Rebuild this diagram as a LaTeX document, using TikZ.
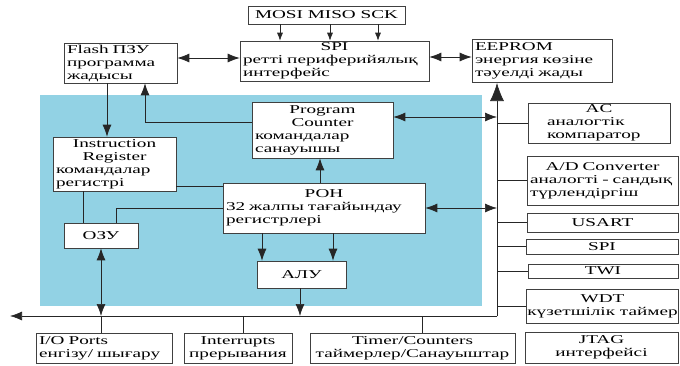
\documentclass[tikz,border=0pt]{standalone}
\usepackage{fontspec}
\setmainfont[FakeStretch=1.6]{Liberation Serif}
\usetikzlibrary{arrows.meta}
\definecolor{corebg}{RGB}{146,210,228}
\newcommand{\ctrln}[1]{\hfill#1\hfill\null}

\tikzset{
  blk/.style={draw=black!75, fill=white, line width=0.6pt, inner xsep=3pt, inner ysep=0pt, align=left},
  wire/.style={black!85, line width=0.7pt},
  arrsmall/.style={wire, -{Latex[length=8pt,width=6pt]}},
  arr/.style={wire, -{Latex[length=12pt,width=9pt]}},
  dblarr/.style={wire, {Latex[length=12pt,width=9pt]}-{Latex[length=12pt,width=9pt]}},
  bigarr/.style={wire, -{Latex[length=18pt,width=14pt]}}
}

\begin{document}
\begin{tikzpicture}[x=1pt, y=-1pt, font=\fontsize{12}{13}\selectfont]

\useasboundingbox (0,0) rectangle (680,365);

% core
\fill[corebg] (40,95) rectangle (482,306);

% blocks
\node[blk, minimum width=157, minimum height=18, align=center] (mosi) at (326.5,15) {MOSI MISO SCK};
\node[blk, text width=183, minimum height=40] (spi) at (334.5,61) {\ctrln{SPI}\\ретті периферийялық\\интерфейс};
\node[blk, text width=134, minimum height=43] (eeprom) at (542,60.5) {EEPROM\\энергия көзіне\\тәуелді жады};
\node[blk, text width=107, minimum height=40] (flash) at (120.5,63) {Flash ПЗУ\\программа\\жадысы};

\node[blk, text width=135, minimum height=56] (pc) at (322.5,130) {\ctrln{Program}\\\ctrln{Counter}\\командалар\\санауышы};
\node[blk, text width=117, minimum height=54] (ir) at (114.5,164) {\ctrln{Instruction}\\\ctrln{Register}\\командалар\\регистрі};
\node[blk, text width=196, minimum height=50] (ron) at (324,208) {\ctrln{РОН}\\32 жалпы тағайындау\\регистрлері};
\node[blk, minimum width=74, minimum height=25, align=center] (ozu) at (101,235.5) {ОЗУ};
\node[blk, minimum width=89, minimum height=27, align=center] (alu) at (301.5,274.5) {АЛУ};

\node[blk, text width=104, minimum width=142, minimum height=40] (ac) at (599,123) {\ctrln{AC}\\аналогтік\\компаратор};
\node[blk, text width=145, minimum height=49] (adc) at (602.5,180.5) {\ctrln{A/D Converter}\\аналогті - сандық\\түрлендіргіш};
\node[blk, minimum width=151, minimum height=19, align=center] (usart) at (602.5,222.5) {USART};
\node[blk, minimum width=152, minimum height=15, align=center] (spiport) at (602,246.5) {SPI};
\node[blk, minimum width=150, minimum height=14, align=center] (twi) at (603,271) {TWI};
\node[blk, minimum width=151, minimum height=34, inner xsep=1pt, align=center] (wdt) at (602.5,306) {WDT\\күзетшілік таймер};
\node[blk, minimum width=153, minimum height=31, align=center] (jtag) at (601.5,347.5) {JTAG\\интерфейсі};

\node[blk, text width=130, minimum height=30] (io) at (104,348) {I/O Ports\\енгізу/ шығару};
\node[blk, minimum width=108, minimum height=30, align=center] (intr) at (238,348) {Interrupts\\прерывания};
\node[blk, minimum width=205, minimum height=30, align=center] (timer) at (412.5,348) {Timer/Counters\\таймерлер/Санауыштар};

% bus
\coordinate (bustop) at (497,83);
\coordinate (buscorner) at (497,316);
\coordinate (busend) at (10,316);

\draw[bigarr] (buscorner) -- (bustop);
\draw[arr] (buscorner) -- (busend);

% connectors
\foreach \x in {280,330,378}
  \draw[arrsmall] (\x,0 |- mosi.south) -- (\x,0 |- spi.north);

\draw[dblarr] (flash.east |- 0,58) -- (spi.west |- 0,58);
\draw[dblarr] (spi.east |- 0,57) -- (eeprom.west |- 0,57);

\draw[arr] (107,0 |- flash.south) -- (107,0 |- ir.north);
\draw[arr] (pc.west |- 0,122) -| (145,0 |- flash.south);
\draw[arr] (320,0 |- ron.north) -- (320,0 |- pc.south);
\draw[dblarr] (pc.east |- 0,117) -- (bustop |- 0,117);
\draw[dblarr] (ron.east) -- (ron.east -| bustop);

\draw[wire] (ir.east |- 0,186) -- (ron.west |- 0,186);
\draw[wire] (ron.west) -| (116,0 |- ozu.north);
\draw[wire] (83,0 |- ir.south) -- (83,0 |- ozu.north);

\foreach \x in {262,333}
  \draw[arr] (\x,0 |- ron.south) -- (\x,0 |- alu.north);
\draw[arr] (300,0 |- alu.south) -- (300,0 |- buscorner);

\draw[dblarr] (ozu.south) -- (ozu.south |- buscorner);
\draw[wire] (ozu.south |- buscorner) -- (ozu.south |- io.north);
\draw[wire] (243,0 |- buscorner) -- (243,0 |- intr.north);
\draw[wire] (422,0 |- buscorner) -- (422,0 |- timer.north);

\foreach \blkname in {ac,adc,usart,spiport,twi,wdt}
  \draw[wire] (bustop |- \blkname.west) -- (\blkname.west);

\end{tikzpicture}
\end{document}
